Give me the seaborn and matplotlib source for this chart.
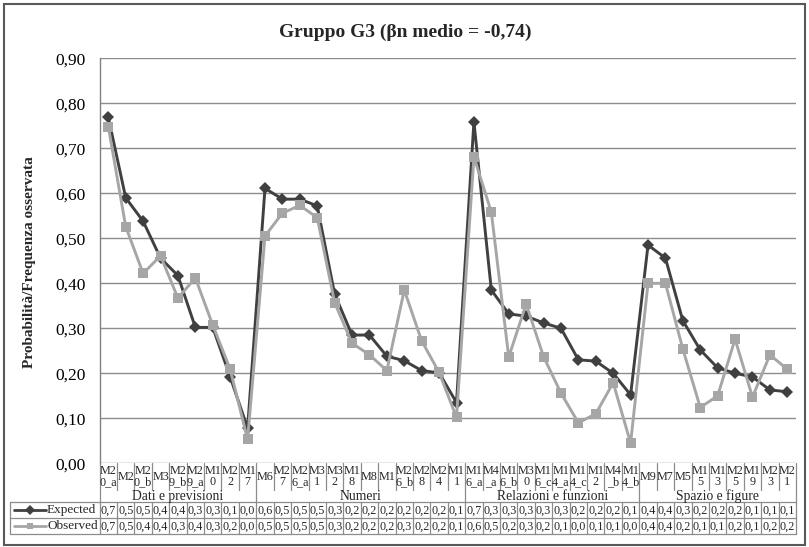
import numpy as np
import pandas as pd
import matplotlib
matplotlib.use("Agg")
import matplotlib.pyplot as plt
from matplotlib.lines import Line2D
from matplotlib.patches import Rectangle
import seaborn as sns

# ---------------- data ----------------
groups = ["Dati e previsioni", "Numeri", "Relazioni e funzioni", "Spazio e figure"]
group_sizes = [9, 12, 10, 9]
categories = ["M20_a", "M2", "M20_b", "M3", "M29_b", "M29_a", "M10", "M22", "M17",
              "M6", "M27", "M26_a", "M31", "M32", "M18", "M8", "M1", "M26_b", "M28", "M24", "M11",
              "M16_a", "M4_a", "M16_b", "M30", "M16_c", "M14_a", "M14_c", "M12", "M4_b", "M14_b",
              "M9", "M7", "M5", "M15", "M13", "M25", "M19", "M23", "M21"]
expected = [0.769, 0.590, 0.538, 0.456, 0.417, 0.302, 0.302, 0.192, 0.078,
            0.611, 0.587, 0.587, 0.572, 0.376, 0.285, 0.285, 0.238, 0.228, 0.206, 0.201, 0.135,
            0.759, 0.385, 0.332, 0.327, 0.312, 0.300, 0.230, 0.227, 0.200, 0.152,
            0.485, 0.456, 0.317, 0.252, 0.212, 0.200, 0.192, 0.163, 0.159]
observed = [0.748, 0.526, 0.422, 0.461, 0.367, 0.412, 0.307, 0.209, 0.053,
            0.505, 0.556, 0.573, 0.546, 0.357, 0.267, 0.241, 0.206, 0.385, 0.272, 0.202, 0.102,
            0.681, 0.558, 0.236, 0.354, 0.237, 0.156, 0.090, 0.110, 0.179, 0.045,
            0.400, 0.400, 0.254, 0.124, 0.150, 0.276, 0.147, 0.241, 0.209]
expected_table = ["0,7", "0,5", "0,5", "0,4", "0,4", "0,3", "0,3", "0,1", "0,0",
                  "0,6", "0,5", "0,5", "0,5", "0,3", "0,2", "0,2", "0,2", "0,2", "0,2", "0,2", "0,1",
                  "0,7", "0,3", "0,3", "0,3", "0,3", "0,3", "0,2", "0,2", "0,2", "0,1",
                  "0,4", "0,4", "0,3", "0,2", "0,2", "0,2", "0,1", "0,1", "0,1"]
observed_table = ["0,7", "0,5", "0,4", "0,4", "0,3", "0,4", "0,3", "0,2", "0,0",
                  "0,5", "0,5", "0,5", "0,5", "0,3", "0,2", "0,2", "0,2", "0,3", "0,2", "0,2", "0,1",
                  "0,6", "0,5", "0,2", "0,3", "0,2", "0,1", "0,0", "0,1", "0,1", "0,0",
                  "0,4", "0,4", "0,2", "0,1", "0,1", "0,2", "0,1", "0,2", "0,2"]
series_names = ["Expected", "Observed"]
y_ticks = [0.0, 0.1, 0.2, 0.3, 0.4, 0.5, 0.6, 0.7, 0.8, 0.9]
y_tick_labels = ["0,00", "0,10", "0,20", "0,30", "0,40", "0,50", "0,60", "0,70", "0,80", "0,90"]
title = "Gruppo G3 (βn medio = -0,74)"
y_label = "Probabilità/Frequenza osservata"

# ---------------- style ----------------
sns.set_style("white")
plt.rcParams["font.family"] = ["Liberation Serif", "DejaVu Serif"]

W, H = 809, 547
fig = plt.figure(figsize=(W / 100, H / 100), dpi=100)
fig.patch.set_facecolor("white")

x_left_px, x_right_px = 99.6, 796.0
y_top_px, y_bot_px = 58.3, 463.3
tab_bot_px = 534.0
n = len(categories)
colw = (x_right_px - x_left_px) / n

ax = fig.add_axes([x_left_px / W, 1 - y_bot_px / H,
                   (x_right_px - x_left_px) / W, (y_bot_px - y_top_px) / H])

colors = {"Expected": "#404040", "Observed": "#a6a6a6"}
markers = {"Expected": "D", "Observed": "s"}

idx = list(range(n))
df = pd.DataFrame({
    "x": idx + idx,
    "value": expected + observed,
    "serie": ["Expected"] * n + ["Observed"] * n,
})
sns.lineplot(data=df, x="x", y="value", hue="serie", style="serie",
             hue_order=series_names, style_order=series_names,
             palette=colors, markers=markers, dashes=False, sort=False,
             estimator=None, linewidth=2.1, markersize=6.5,
             markeredgewidth=0, legend=False, ax=ax)

ax.set_xlim(-0.5, n - 0.5)
ax.set_ylim(0, 0.9)
ax.set_yticks(y_ticks)
ax.set_yticklabels(y_tick_labels, fontsize=12.5)
ax.set_xticks([])
ax.set_xlabel("")
ax.set_ylabel("")
ax.yaxis.grid(True, color="#8c8c8c", linewidth=1.0)
ax.set_axisbelow(True)
ax.tick_params(axis="y", length=0, pad=10, colors="black")
for s in ["top", "right", "bottom"]:
    ax.spines[s].set_visible(False)
ax.spines["left"].set_color("#808080")
ax.spines["left"].set_linewidth(1.0)

fig.text(405 / W, 1 - 32 / H, title, ha="center", va="center",
         fontsize=14, fontweight="bold")
fig.text(30 / W, 1 - 262 / H, y_label, ha="center", va="center",
         rotation=90, fontsize=11, fontweight="bold")

# ---------------- data table ----------------
tax = fig.add_axes([x_left_px / W, 1 - tab_bot_px / H,
                    (x_right_px - x_left_px) / W, (tab_bot_px - y_bot_px) / H])
tax.set_xlim(-0.5, n - 0.5)
tax.set_ylim(tab_bot_px, y_bot_px)
tax.axis("off")


def px2x(px):
    return -0.5 + (px - x_left_px) / colw


lab_bot, grp_bot, row1_bot = 490.0, 502.0, 518.0
lc = "#8c8c8c"
lw = 0.9
bounds = list(np.cumsum(group_sizes))
for i in range(n + 1):
    xv = i - 0.5
    if i == 0 or i == n or i in bounds:
        tax.plot([xv, xv], [y_bot_px, tab_bot_px], color=lc, lw=lw, clip_on=False)
    else:
        tax.plot([xv, xv], [y_bot_px, lab_bot], color=lc, lw=lw, clip_on=False)
        tax.plot([xv, xv], [grp_bot, tab_bot_px], color=lc, lw=lw, clip_on=False)

xl = px2x(10)
for yy in [grp_bot, row1_bot, tab_bot_px]:
    tax.plot([xl, n - 0.5], [yy, yy], color=lc, lw=lw, clip_on=False)
tax.plot([xl, xl], [grp_bot, tab_bot_px], color=lc, lw=lw, clip_on=False)

fs = 8.7
for i, c in enumerate(categories):
    lab = c if len(c) <= 2 else c[:2] + "\n" + c[2:]
    tax.text(i, 476.5, lab, ha="center", va="center", fontsize=fs, linespacing=0.92)
    tax.text(i, 510.3, expected_table[i], ha="center", va="center", fontsize=fs)
    tax.text(i, 526.3, observed_table[i], ha="center", va="center", fontsize=fs)

start = 0
for g, sz in zip(groups, group_sizes):
    tax.text(start + (sz - 1) / 2, 496.3, g, ha="center", va="center", fontsize=9.8)
    start += sz

for name, yc in zip(series_names, [510.3, 526.3]):
    tax.add_line(Line2D([px2x(14), px2x(46)], [yc, yc], color=colors[name], lw=2.0, clip_on=False))
    tax.add_line(Line2D([px2x(30)], [yc], marker=markers[name], markersize=5,
                        markeredgewidth=0, color=colors[name], clip_on=False))
    tax.text(px2x(47), yc, name, ha="left", va="center", fontsize=9.5)

# outer chart border
fig.add_artist(Rectangle((4 / W, 2 / H), 801 / W, 541 / H, transform=fig.transFigure,
                         fill=False, edgecolor="#595959", linewidth=1.5))

fig.savefig("out.png", dpi=100)
